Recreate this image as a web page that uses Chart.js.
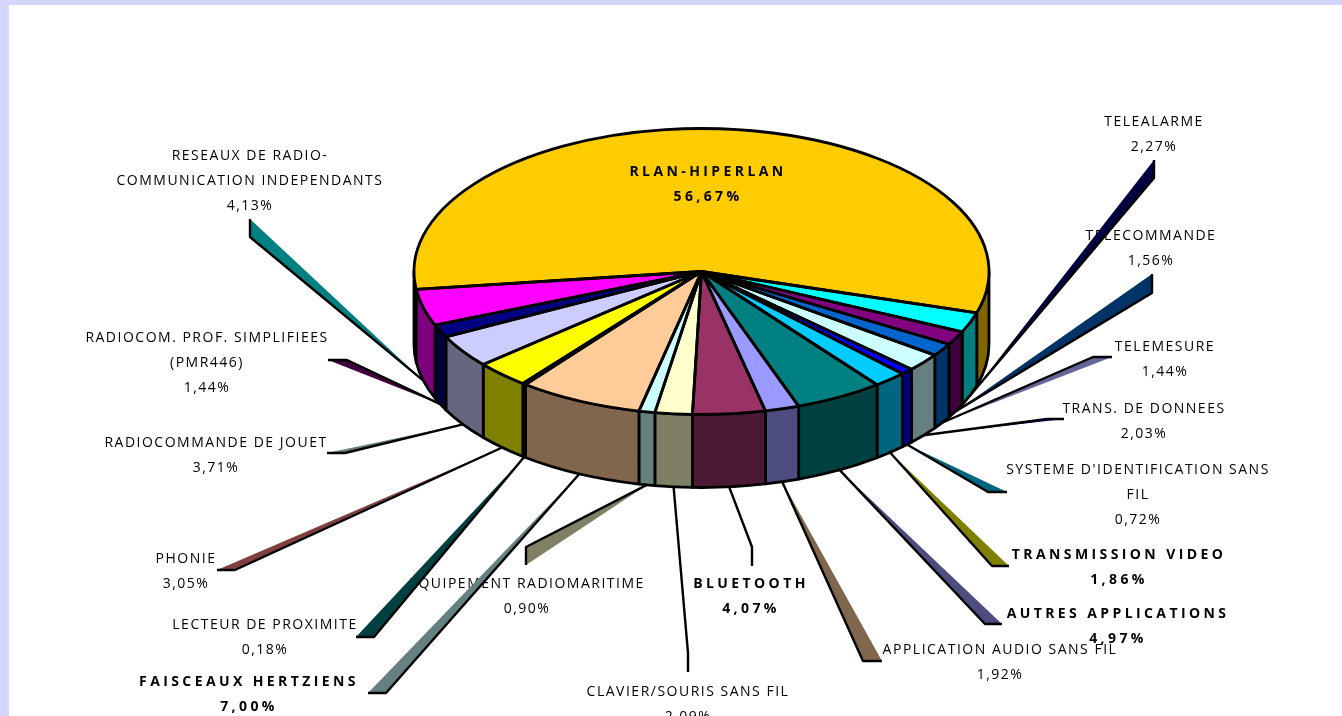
<!DOCTYPE html>
<html>
<head>
<meta charset="utf-8">
<title>Repartition des applications</title>
<script src="https://cdn.jsdelivr.net/npm/chart.js@4"></script>
<style>
html, body { margin: 0; padding: 0; width: 1342px; height: 716px; overflow: hidden; background: #d5d5ff; }
#sheet { position: absolute; left: 9px; top: 5px; right: 0; bottom: 0; background: #fff; }
#mycanvas { position: absolute; left: 0; top: 0; }
</style>
</head>
<body>
<div id="sheet"></div>
<canvas id="mycanvas" width="1342" height="716"></canvas>
<script>
// data, clockwise from the big slice
var categories = ["RLAN-HIPERLAN", "TELEALARME", "TELECOMMANDE", "TELEMESURE", "TRANS. DE DONNEES",
    "SYSTEME D'IDENTIFICATION SANS\nFIL", "TRANSMISSION VIDEO", "AUTRES APPLICATIONS", "APPLICATION AUDIO SANS FIL",
    "BLUETOOTH", "CLAVIER/SOURIS SANS FIL", "EQUIPEMENT RADIOMARITIME", "FAISCEAUX HERTZIENS", "LECTEUR DE PROXIMITE",
    "PHONIE", "RADIOCOMMANDE DE JOUET", "RADIOCOM. PROF. SIMPLIFIEES\n(PMR446)", "RESEAUX DE RADIO-\nCOMMUNICATION INDEPENDANTS"];
var values = [56.67, 2.27, 1.56, 1.44, 2.03, 0.72, 1.86, 4.97, 1.92, 4.07, 2.09, 0.90, 7.00, 0.18, 3.05, 3.71, 1.44, 4.13];
var boldLabels = [0, 6, 7, 9, 12];

// styles
var sliceColors = ["#ffcc00", "#00ffff", "#800080", "#0066cc", "#ccffff", "#0000ff", "#00ccff", "#008080", "#9999ff",
    "#993366", "#ffffcc", "#ccffff", "#ffcc99", "#008080", "#ffff00", "#ccccff", "#000080", "#ff00ff"];
var leaderColors = [null, "#000040", "#003366", "#666699", "#000080", "#006680", "#808000", "#4d4d80", "#80664d",
    null, null, "#808066", "#668080", "#004040", "#804040", "#668080", "#400040", "#008080"];

// label placement: centre x, y of the first line
var labelX = [708, 1154, 1151, 1165, 1144, 1138, 1119, 1118, 1000, 751, 688, 527, 249, 265, 186, 216, 207, 250];
var labelY = [172, 122, 236, 347, 409, 470, 555, 614, 650, 584, 692, 584, 682, 625, 559, 443, 338, 156];
// leader bends: elbow then end, both in page pixels
var elbows = [null, [1154, 178], [1152, 293], [1093, 357], [1047, 419], [988, 492], [992, 566], [985, 624], [863, 661],
    [752, 547], [688, 653], [526, 547], [386, 693], [374, 637], [235, 570], [345, 453], [347, 360], [250, 237]];
var ends = [null, [1154, 160], [1152, 274], [1112, 357], [1064, 419], [1007, 492], [1009, 566], [1002, 624], [882, 661],
    [752, 566], [688, 672], [526, 565], [368, 693], [356, 637], [217, 570], [327, 453], [328, 360], [250, 219]];

var tiltY = 271.5, tiltRatio = 0.4974, depth = 73;
var TWO_PI = Math.PI * 2;

function halfColor(hex) {
    var n = parseInt(hex.slice(1), 16);
    var r = (n >> 16) >> 1, g = ((n >> 8) & 255) >> 1, b = (n & 255) >> 1;
    return "rgb(" + r + "," + g + "," + b + ")";
}

function drawLabel(ctx, i) {
    var bold = boldLabels.indexOf(i) >= 0;
    var lines = categories[i].split("\n");
    lines.push(values[i].toFixed(2).replace(".", ",") + "%");
    ctx.font = (bold ? "bold " : "") + "14px 'Open Sans'";
    ctx.letterSpacing = bold ? "3.4px" : "1.5px";
    ctx.fillStyle = "#000";
    ctx.textAlign = "center";
    ctx.textBaseline = "middle";
    for (var k = 0; k < lines.length; k++) {
        ctx.fillText(lines[k], labelX[i], labelY[i] + k * 25);
    }
    ctx.letterSpacing = "0px";
}

function drawLeader(ctx, arc, i) {
    if (!elbows[i]) return;
    var mid = (arc.startAngle + arc.endAngle) / 2;
    var sx = arc.x + Math.cos(mid) * arc.outerRadius;
    var sy = tiltY + Math.sin(mid) * arc.outerRadius * tiltRatio + depth;
    if (leaderColors[i]) {
        ctx.beginPath();
        ctx.moveTo(sx, sy);
        ctx.lineTo(elbows[i][0], elbows[i][1]);
        ctx.lineTo(ends[i][0], ends[i][1]);
        ctx.closePath();
        ctx.fillStyle = leaderColors[i];
        ctx.fill();
    }
    ctx.beginPath();
    ctx.moveTo(sx, sy);
    ctx.lineTo(elbows[i][0], elbows[i][1]);
    ctx.lineTo(ends[i][0], ends[i][1]);
    ctx.strokeStyle = "#000";
    ctx.lineWidth = 2.4;
    ctx.stroke();
}

function drawWallPart(ctx, arc, from, to, color) {
    var r = arc.outerRadius, ry = r * tiltRatio;
    ctx.beginPath();
    ctx.ellipse(arc.x, tiltY, r, ry, 0, from, to);
    ctx.ellipse(arc.x, tiltY + depth, r, ry, 0, to, from, true);
    ctx.closePath();
    ctx.fillStyle = color;
    ctx.fill();
    ctx.strokeStyle = "#000";
    ctx.lineWidth = 2.8;
    ctx.stroke();
}

function drawWalls(ctx, arc, i) {
    var span = arc.endAngle - arc.startAngle;
    var a0 = ((arc.startAngle % TWO_PI) + TWO_PI) % TWO_PI;
    var a1 = a0 + span;
    var windows = [[0, Math.PI], [TWO_PI, TWO_PI + Math.PI]];
    for (var w = 0; w < windows.length; w++) {
        var from = Math.max(a0, windows[w][0]);
        var to = Math.min(a1, windows[w][1]);
        if (to > from) drawWallPart(ctx, arc, from, to, halfColor(sliceColors[i]));
    }
}

var tiltedPie = {
    id: "tiltedPie",
    beforeDatasetsDraw: function (chart) {
        var ctx = chart.ctx;
        var arcs = chart.getDatasetMeta(0).data;
        ctx.save();
        for (var i = 1; i < arcs.length; i++) drawLabel(ctx, i);
        ctx.lineJoin = "round";
        for (i = 0; i < arcs.length; i++) drawLeader(ctx, arcs[i], i);
        for (i = 0; i < arcs.length; i++) drawWalls(ctx, arcs[i], i);
        ctx.restore();
        // the library draws the slices squashed into an ellipse
        var a = arcs[0];
        ctx.save();
        ctx.translate(0, tiltY);
        ctx.scale(1, tiltRatio);
        ctx.translate(0, -a.y);
    },
    afterDatasetsDraw: function (chart) {
        var ctx = chart.ctx;
        ctx.restore();
        var arcs = chart.getDatasetMeta(0).data;
        ctx.save();
        ctx.strokeStyle = "#000";
        ctx.lineWidth = 2.8;
        ctx.lineJoin = "round";
        for (var i = 0; i < arcs.length; i++) {
            var a = arcs[i];
            ctx.beginPath();
            ctx.moveTo(a.x, tiltY);
            ctx.ellipse(a.x, tiltY, a.outerRadius, a.outerRadius * tiltRatio, 0, a.startAngle, a.endAngle);
            ctx.closePath();
            ctx.stroke();
        }
        drawLabel(ctx, 0);
        ctx.restore();
    }
};

var chart = new Chart(document.getElementById("mycanvas"), {
    type: "pie",
    data: {
        labels: categories,
        datasets: [{
            data: values,
            backgroundColor: sliceColors,
            borderWidth: 0,
            clip: false
        }]
    },
    options: {
        responsive: false,
        animation: false,
        events: [],
        rotation: 262.8,
        layout: { padding: { left: 61, right: 0, top: 0, bottom: 141 } },
        plugins: { legend: { display: false }, tooltip: { enabled: false } }
    },
    plugins: [tiltedPie]
});
</script>
</body>
</html>
